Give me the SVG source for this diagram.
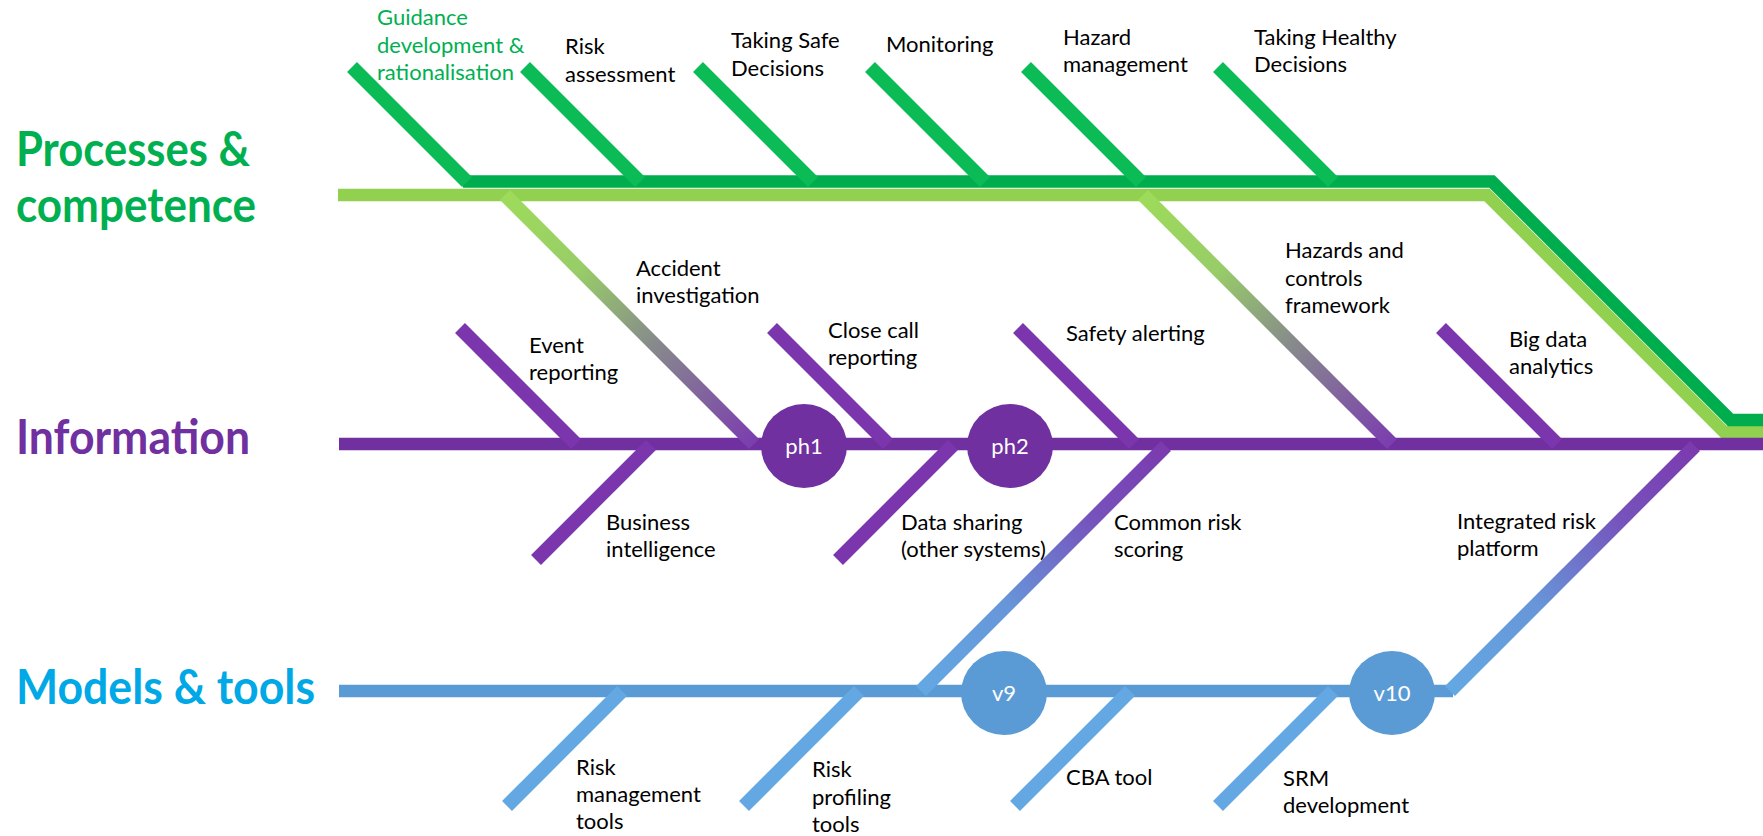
<svg xmlns="http://www.w3.org/2000/svg" width="1763" height="836" viewBox="0 0 1763 836">
<style>
.lbl{font-family:Lato,"Liberation Sans",sans-serif;font-size:22px;fill:#000}
.glbl{fill:#00B050}
.cat{font-family:Lato,"Liberation Sans",sans-serif;font-weight:bold;font-size:48px}
.bone{fill:none;stroke-width:14;stroke-linecap:butt}
.g{stroke:#0BBB56}
.p{stroke:#7B36AE}
.b{stroke:#63A8E3}
.spine{fill:none;stroke-width:12.5;stroke-linecap:butt;stroke-linejoin:miter}
.ms{font-family:Lato,"Liberation Sans",sans-serif;font-size:22px;fill:#fff;text-anchor:middle}
</style>
<defs>
<linearGradient id="gA" gradientUnits="userSpaceOnUse" x1="505" y1="195" x2="754" y2="444">
<stop offset="0" stop-color="#9EDB5A"/><stop offset="0.3" stop-color="#98CD68"/><stop offset="0.6" stop-color="#878A8C"/><stop offset="1" stop-color="#7B3DAF"/>
</linearGradient>
<linearGradient id="gH" gradientUnits="userSpaceOnUse" x1="1143" y1="195" x2="1392" y2="444">
<stop offset="0" stop-color="#9EDB5A"/><stop offset="0.3" stop-color="#98CD68"/><stop offset="0.6" stop-color="#878A8C"/><stop offset="1" stop-color="#7B3DAF"/>
</linearGradient>
<linearGradient id="gC" gradientUnits="userSpaceOnUse" x1="1166" y1="447" x2="922" y2="691">
<stop offset="0" stop-color="#7B3AAE"/><stop offset="0.3" stop-color="#7653BC"/><stop offset="0.65" stop-color="#6796D9"/><stop offset="1" stop-color="#63A8E3"/>
</linearGradient>
<linearGradient id="gI" gradientUnits="userSpaceOnUse" x1="1695" y1="446" x2="1450" y2="691">
<stop offset="0" stop-color="#7B3AAE"/><stop offset="0.3" stop-color="#7653BC"/><stop offset="0.65" stop-color="#6796D9"/><stop offset="1" stop-color="#63A8E3"/>
</linearGradient>
</defs>
<rect width="1763" height="836" fill="#fff"/>

<g id="connectors">
<path class="spine" stroke="#92D050" d="M338,195 H1487 L1724,432 H1763"/>
<path class="spine" stroke="#00AD4E" d="M463,181.5 H1492 L1730.5,420 H1763"/>
<path class="spine" stroke="#7030A0" d="M339,444 H1763"/>
<path class="spine" stroke="#5B9BD5" d="M339,691 H1453"/>
</g>

<g id="cat-processes">
<text class="cat" fill="#00B050" x="16" y="166" textLength="234" lengthAdjust="spacingAndGlyphs">Processes &amp;</text>
<text class="cat" fill="#00B050" x="16" y="222" textLength="240" lengthAdjust="spacingAndGlyphs">competence</text>
</g>
<g id="cat-information">
<text class="cat" fill="#7030A0" x="16" y="454" textLength="234" lengthAdjust="spacingAndGlyphs">Information</text>
</g>
<g id="cat-models">
<text class="cat" fill="#00A8E6" x="16" y="704" textLength="299" lengthAdjust="spacingAndGlyphs">Models &amp; tools</text>
</g>

<g id="guidance">
<line class="bone g" x1="352" y1="67" x2="467" y2="182"/>
<text class="lbl glbl"><tspan x="377" y="25">Guidance</tspan><tspan x="377" y="53">development &amp;</tspan><tspan x="377" y="80">rationalisation</tspan></text>
</g>
<g id="risk-assessment">
<line class="bone g" x1="525" y1="67" x2="640" y2="182"/>
<text class="lbl"><tspan x="565" y="54">Risk</tspan><tspan x="565" y="82">assessment</tspan></text>
</g>
<g id="taking-safe">
<line class="bone g" x1="698" y1="67" x2="813" y2="182"/>
<text class="lbl"><tspan x="731" y="48">Taking Safe</tspan><tspan x="731" y="76">Decisions</tspan></text>
</g>
<g id="monitoring">
<line class="bone g" x1="870" y1="67" x2="985" y2="182"/>
<text class="lbl" x="886" y="52">Monitoring</text>
</g>
<g id="hazard-management">
<line class="bone g" x1="1026" y1="67" x2="1141" y2="182"/>
<text class="lbl"><tspan x="1063" y="45">Hazard</tspan><tspan x="1063" y="72">management</tspan></text>
</g>
<g id="taking-healthy">
<line class="bone g" x1="1218" y1="67" x2="1333" y2="182"/>
<text class="lbl"><tspan x="1254" y="45">Taking Healthy</tspan><tspan x="1254" y="72">Decisions</tspan></text>
</g>

<g id="accident-investigation">
<line class="bone" stroke="url(#gA)" x1="505" y1="195" x2="754" y2="444"/>
<text class="lbl"><tspan x="636" y="276">Accident</tspan><tspan x="636" y="303">investigation</tspan></text>
</g>
<g id="hazards-controls">
<line class="bone" stroke="url(#gH)" x1="1143" y1="195" x2="1392" y2="444"/>
<text class="lbl"><tspan x="1285" y="258">Hazards and</tspan><tspan x="1285" y="286">controls</tspan><tspan x="1285" y="313">framework</tspan></text>
</g>

<g id="event-reporting">
<line class="bone p" x1="460" y1="328" x2="576" y2="444"/>
<text class="lbl"><tspan x="529" y="353">Event</tspan><tspan x="529" y="380">reporting</tspan></text>
</g>
<g id="close-call">
<line class="bone p" x1="772" y1="328" x2="888" y2="444"/>
<text class="lbl"><tspan x="828" y="338">Close call</tspan><tspan x="828" y="365">reporting</tspan></text>
</g>
<g id="safety-alerting">
<line class="bone p" x1="1018" y1="328" x2="1134" y2="444"/>
<text class="lbl" x="1066" y="341">Safety alerting</text>
</g>
<g id="big-data">
<line class="bone p" x1="1441" y1="328" x2="1557" y2="444"/>
<text class="lbl"><tspan x="1509" y="347">Big data</tspan><tspan x="1509" y="374">analytics</tspan></text>
</g>
<g id="business-intelligence">
<line class="bone p" x1="651" y1="445" x2="536" y2="560"/>
<text class="lbl"><tspan x="606" y="530">Business</tspan><tspan x="606" y="557">intelligence</tspan></text>
</g>
<g id="data-sharing">
<line class="bone p" x1="953" y1="445" x2="838" y2="560"/>
<text class="lbl"><tspan x="901" y="530">Data sharing</tspan><tspan x="901" y="557">(other systems)</tspan></text>
</g>
<g id="common-risk">
<line class="bone" stroke="url(#gC)" x1="1166" y1="446" x2="921" y2="691"/>
<text class="lbl"><tspan x="1114" y="530">Common risk</tspan><tspan x="1114" y="557">scoring</tspan></text>
</g>
<g id="integrated-risk">
<line class="bone" stroke="url(#gI)" x1="1695" y1="446" x2="1450" y2="691"/>
<text class="lbl"><tspan x="1457" y="529">Integrated risk</tspan><tspan x="1457" y="556">platform</tspan></text>
</g>

<g id="risk-management-tools">
<line class="bone b" x1="622" y1="691" x2="507" y2="806"/>
<text class="lbl"><tspan x="576" y="775">Risk</tspan><tspan x="576" y="802">management</tspan><tspan x="576" y="829">tools</tspan></text>
</g>
<g id="risk-profiling-tools">
<line class="bone b" x1="859" y1="691" x2="744" y2="806"/>
<text class="lbl"><tspan x="812" y="777">Risk</tspan><tspan x="812" y="805">profiling</tspan><tspan x="812" y="832">tools</tspan></text>
</g>
<g id="cba-tool">
<line class="bone b" x1="1130" y1="691" x2="1015" y2="806"/>
<text class="lbl" x="1066" y="785">CBA tool</text>
</g>
<g id="srm-development">
<line class="bone b" x1="1333" y1="691" x2="1218" y2="806"/>
<text class="lbl"><tspan x="1283" y="786">SRM</tspan><tspan x="1283" y="813">development</tspan></text>
</g>

<g id="ph1">
<ellipse cx="804" cy="446" rx="43" ry="42" fill="#7030A0"/>
<text class="ms" x="804" y="454">ph1</text>
</g>
<g id="ph2">
<ellipse cx="1010" cy="446" rx="43" ry="42" fill="#7030A0"/>
<text class="ms" x="1010" y="454">ph2</text>
</g>
<g id="v9">
<ellipse cx="1004" cy="693" rx="43" ry="42" fill="#5B9BD5"/>
<text class="ms" x="1004" y="701">v9</text>
</g>
<g id="v10">
<ellipse cx="1392" cy="693" rx="43" ry="42" fill="#5B9BD5"/>
<text class="ms" x="1392" y="701">v10</text>
</g>
</svg>
